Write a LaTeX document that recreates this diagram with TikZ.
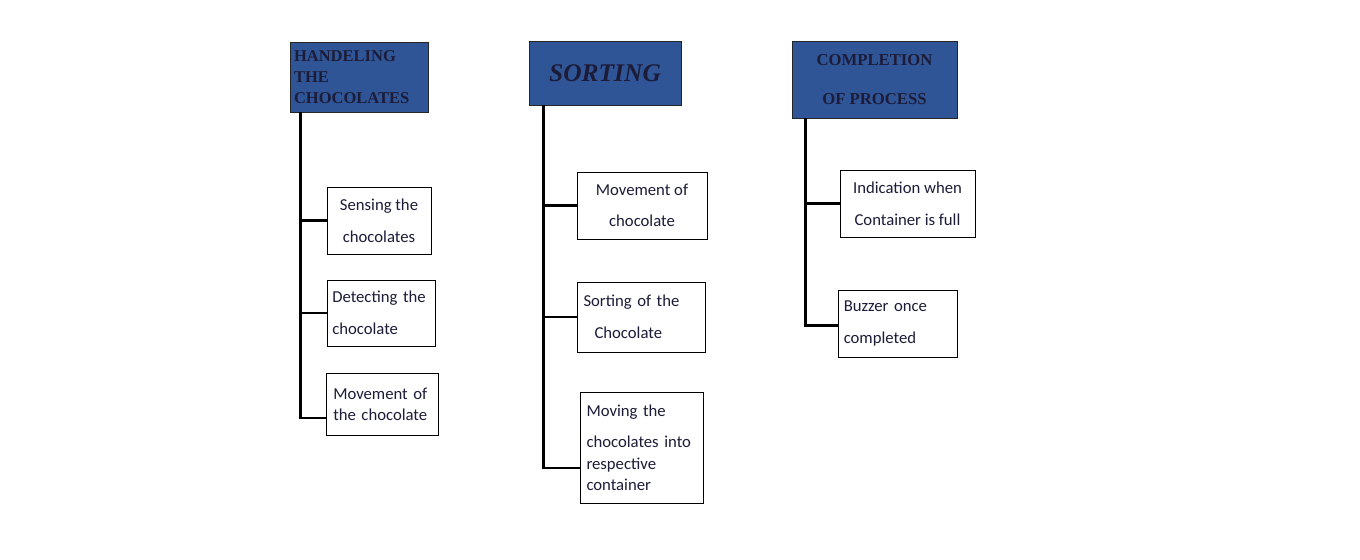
\documentclass[tikz,border=0pt]{standalone}
\usepackage{fontspec}
\setmainfont{Carlito}
\newfontfamily\headfont{Liberation Serif}
\definecolor{headblue}{HTML}{2F5597}
\definecolor{inktext}{HTML}{1C1C38}
\begin{document}
\begin{tikzpicture}[x=0.02cm,y=-0.02cm]
		\tikzstyle{head}=[draw=black!85,fill=headblue,inner sep=2pt,text=inktext,font=\headfont\bfseries]
		\tikzstyle{task}=[draw=black,line width=0.5pt,inner xsep=3pt,inner ysep=4pt,text=inktext,font=\fontsize{9.5}{11}\selectfont]
		\tikzstyle{trunk}=[line width=1.6pt]
		\useasboundingbox[fill=white] (0,0) rectangle (1360,559);
		% column headers
		\node[head,minimum width=2.76cm,minimum height=1.4cm,text width=2.6cm,align=left,font=\headfont\bfseries\fontsize{9.4}{11.8}\selectfont] (h_1) at (359,77) {HANDELING\\THE\\CHOCOLATES};
		\node[head,minimum width=3.04cm,minimum height=1.28cm,align=center,font=\headfont\bfseries\itshape\fontsize{14.5}{16}\selectfont] (h_2) at (605,73) {SORTING};
		\node[head,minimum width=3.3cm,minimum height=1.54cm,align=center,font=\headfont\bfseries\fontsize{9.5}{11}\selectfont] (h_3) at (874.5,79.5) {COMPLETION\\[11pt]OF PROCESS};
		% first column
		\node[task,minimum width=2.08cm,minimum height=1.34cm,align=center] (b_1_1) at (379,220.5) {Sensing the\\[7pt]chocolates};
		\node[task,minimum width=2.16cm,minimum height=1.32cm,text width=1.95cm,align=left] (b_1_2) at (381,313) {Detecting the\\[7pt]chocolate};
		\node[task,minimum width=2.24cm,minimum height=1.24cm,text width=1.95cm,align=left] (b_1_3) at (382,404) {Movement of\\[1pt]the chocolate};
		% second column
		\node[task,minimum width=2.6cm,minimum height=1.34cm,align=center] (b_2_1) at (642,205.5) {Movement of\\[7pt]chocolate};
		\node[task,minimum width=2.56cm,minimum height=1.4cm,text width=2.3cm,align=left] (b_2_2) at (641,317) {Sorting of the\\[7pt]\hspace*{0.22cm}Chocolate};
		\node[task,minimum width=2.46cm,minimum height=2.22cm,text width=2.2cm,align=left] (b_2_3) at (641.5,447.5) {Moving the\\[7pt]chocolates into\\[1pt]respective\\[1pt]container};
		% third column
		\node[task,minimum width=2.7cm,minimum height=1.34cm,align=center] (b_3_1) at (907.5,203.5) {Indication when\\[7pt]Container is full};
		\node[task,minimum width=2.38cm,minimum height=1.34cm,text width=2.15cm,align=left] (b_3_2) at (897.5,323.5) {Buzzer once\\[7pt]completed};
		% connectors
		\draw[trunk] (h_1.south west) ++(11,0) |- (b_1_1.west);
		\draw[trunk] (h_1.south west) ++(11,0) |- (b_1_2.west);
		\draw[trunk] (h_1.south west) ++(11,0) |- ([yshift=-0.28cm]b_1_3.west);
		\draw[trunk] (h_2.south west) ++(15,0) |- (b_2_1.west);
		\draw[trunk] (h_2.south west) ++(15,0) |- (b_2_2.west);
		\draw[trunk] (h_2.south west) ++(15,0) |- ([yshift=-0.41cm]b_2_3.west);
		\draw[trunk] (h_3.south west) ++(14,0) |- (b_3_1.west);
		\draw[trunk] (h_3.south west) ++(14,0) |- ([yshift=-0.04cm]b_3_2.west);
	\end{tikzpicture}
\end{document}
